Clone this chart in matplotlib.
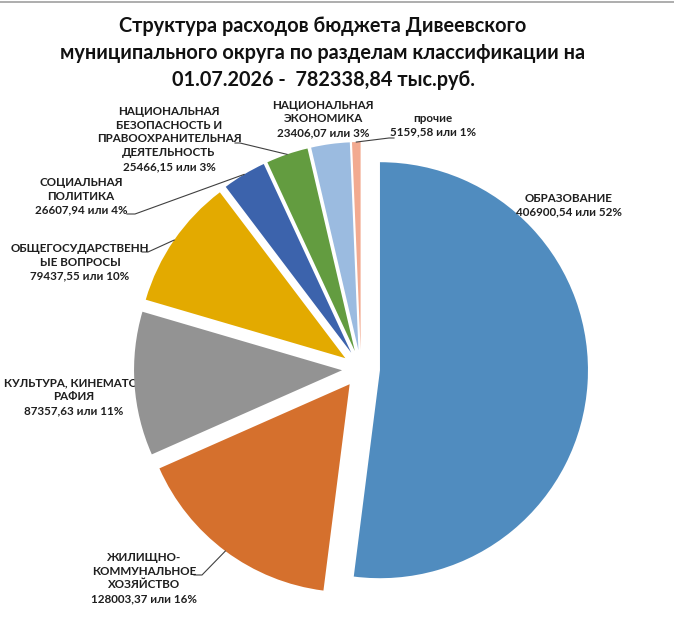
import numpy as np
import matplotlib
matplotlib.use('Agg')
import matplotlib.pyplot as plt

plt.rcParams['font.family'] = ['Lato', 'DejaVu Sans']

W, H = 674, 638

# data
categories = ['ОБРАЗОВАНИЕ',
              'ЖИЛИЩНО-\nКОММУНАЛЬНОЕ\nХОЗЯЙСТВО',
              'КУЛЬТУРА, КИНЕМАТОГ\nРАФИЯ',
              'ОБЩЕГОСУДАРСТВЕНН\nЫЕ ВОПРОСЫ',
              'СОЦИАЛЬНАЯ\nПОЛИТИКА',
              'НАЦИОНАЛЬНАЯ\nБЕЗОПАСНОСТЬ И\nПРАВООХРАНИТЕЛЬНАЯ\nДЕЯТЕЛЬНОСТЬ',
              'НАЦИОНАЛЬНАЯ\nЭКОНОМИКА',
              'прочие']
amounts = [406900.54, 128003.37, 87357.63, 79437.55,
           26607.94, 25466.15, 23406.07, 5159.58]
percents = [52, 16, 11, 10, 4, 3, 3, 1]
total = '782338,84'
colors = ['#508cbf', '#d5702d', '#939393', '#e3aa00',
          '#3c63ac', '#639c40', '#9bbbe0', '#f2aa90']

# label placement in pixels (x centre, y centre of block) and leader elbows
label_pos = [(569, 205), (144, 578), (74, 397), (80, 262),
             (81, 196), (169, 139), (323, 119), (433, 125)]
leaders = {1: [(194, 575), (202, 575)],
           3: [(142, 252), (148, 252)],
           4: [(127, 214), (135, 214)],
           5: [(235, 143), (240, 143)],
           7: [(394, 138), (389, 138)]}


def px(x, y):
    return x, H - y


fig = plt.figure(figsize=(W / 100, H / 100), dpi=100)
ax = fig.add_axes([0, 0, 1, 1])
ax.axis('off')

radius = 208
wedges, _ = ax.pie(amounts, colors=colors, startangle=90, counterclock=False,
                   radius=radius, center=px(361, 369),
                   explode=[19] * len(amounts),
                   wedgeprops=dict(linewidth=0, zorder=2))
ax.set_xlim(0, W)
ax.set_ylim(0, H)
ax.set_aspect('equal')

for i, (name, amt, pct) in enumerate(zip(categories, amounts, percents)):
    txt = f'{name}\n{amt:.2f}'.replace('.', ',') + f' или {pct}%'
    x, y = px(*label_pos[i])
    ax.text(x, y, txt, ha='center', va='center', fontsize=8.4,
            fontweight='bold', color='#1f1f1f', linespacing=1.3,
            zorder=1 if i == 2 else 4)
    if i in leaders:
        w = wedges[i]
        th = np.deg2rad((w.theta1 + w.theta2) / 2)
        cx, cy = w.center
        end = (cx + w.r * np.cos(th), cy + w.r * np.sin(th))
        pts = [px(*p) for p in leaders[i]] + [end]
        xs, ys = zip(*pts)
        ax.plot(xs, ys, color='#404040', lw=0.8, zorder=3)

title = ['Структура расходов бюджета Дивеевского',
         'муниципального округа по разделам классификации на',
         f'01.07.2026 -  {total} тыс.руб.']
for k, line in enumerate(title):
    fig.text(323 / W, 1 - (26 + 27 * k) / H, line, ha='center', va='center',
             fontsize=14.3, fontweight='bold', color='#111111')

fig.add_artist(plt.Line2D([0, 1], [1 - 1.5 / H, 1 - 1.5 / H],
                          color='#a0a0a0', lw=1.2))

fig.savefig('out.png', dpi=100)
